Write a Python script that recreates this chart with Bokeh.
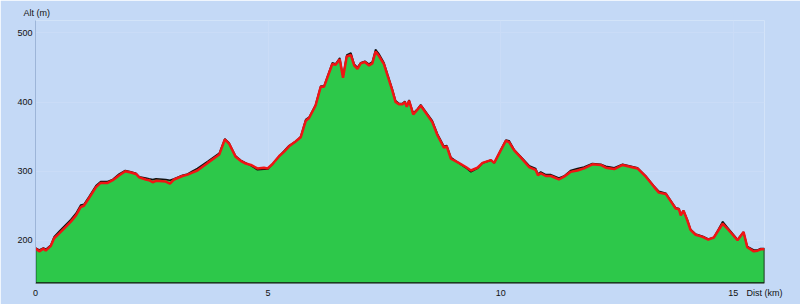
from bokeh.plotting import figure
from bokeh.models import Range1d, FixedTicker, Title
from bokeh.embed import file_html
from bokeh.resources import INLINE

# distance (km) and altitude (m)
dist_km = [0.00, 0.08, 0.17, 0.22, 0.33, 0.40, 0.51, 0.76, 0.87, 0.97, 1.04, 1.15, 1.30, 1.40, 1.55,
           1.66, 1.80, 1.93, 2.05, 2.16, 2.23, 2.37, 2.44, 2.52, 2.59, 2.80, 2.89, 2.98, 3.16, 3.27,
           3.37, 3.48, 3.70, 3.95, 4.07, 4.16, 4.30, 4.41, 4.52, 4.63, 4.77, 4.91, 4.99, 5.09, 5.24,
           5.34, 5.45, 5.59, 5.70, 5.81, 5.88, 6.02, 6.13, 6.20, 6.38, 6.45, 6.54, 6.61, 6.69, 6.78,
           6.85, 6.92, 6.99, 7.08, 7.17, 7.24, 7.31, 7.38, 7.49, 7.57, 7.67, 7.74, 7.81, 7.89, 7.94,
           7.98, 8.03, 8.12, 8.21, 8.28, 8.53, 8.64, 8.78, 8.84, 8.93, 9.07, 9.25, 9.36, 9.50, 9.61,
           9.79, 9.86, 10.00, 10.11, 10.18, 10.29, 10.43, 10.61, 10.75, 10.80, 10.86, 10.97, 11.08, 11.25, 11.36,
           11.50, 11.65, 11.79, 11.97, 12.15, 12.26, 12.44, 12.62, 12.94, 13.12, 13.30, 13.40, 13.55, 13.65, 13.76,
           13.83, 13.87, 13.93, 14.01, 14.08, 14.19, 14.34, 14.46, 14.58, 14.77, 14.87, 15.09, 15.22, 15.30, 15.44,
           15.52, 15.59, 15.67]

# GPS altitude (red line)
alt_gps = [188, 184, 188, 185, 192, 203, 210, 227, 236, 248, 250, 261, 277, 283, 283,
           287, 294, 300, 298, 296, 291, 288, 287, 284, 286, 285, 282, 288, 293, 295,
           298, 301, 312, 324, 346, 340, 321, 315, 311, 309, 304, 305, 304, 310, 322,
           328, 336, 343, 349, 373, 377, 395, 422, 422, 455, 454, 462, 435, 466, 468,
           453, 448, 456, 458, 453, 456, 473, 467, 455, 438, 417, 400, 397, 397, 400,
           393, 402, 382, 389, 395, 371, 352, 334, 336, 318, 313, 306, 301, 305, 312,
           316, 312, 330, 344, 342, 330, 320, 306, 302, 294, 297, 293, 293, 288, 292,
           299, 301, 304, 310, 309, 305, 303, 309, 304, 292, 277, 269, 267, 257, 246,
           245, 236, 243, 229, 215, 208, 205, 201, 204, 224, 217, 200, 212, 190, 184,
           185, 187, 187]

# terrain altitude (green area with black outline)
alt_dem = [189, 186, 189, 187, 193, 205, 213, 230, 239, 251, 252, 263, 279, 285, 285,
           288, 296, 301, 299, 297, 292, 290, 289, 288, 289, 288, 287, 289, 294, 296,
           300, 304, 314, 326, 347, 341, 322, 316, 312, 308, 302, 303, 303, 310, 322,
           329, 337, 343, 350, 375, 378, 396, 423, 423, 457, 455, 464, 437, 468, 471,
           455, 450, 457, 459, 455, 458, 476, 470, 457, 440, 419, 402, 398, 398, 401,
           394, 403, 384, 390, 396, 373, 354, 336, 337, 320, 313, 305, 299, 304, 312,
           316, 312, 331, 345, 344, 331, 321, 308, 304, 296, 299, 295, 295, 290, 293,
           301, 304, 306, 311, 310, 307, 305, 310, 305, 293, 278, 271, 268, 258, 247,
           246, 238, 243, 230, 216, 209, 206, 202, 204, 227, 219, 201, 212, 191, 186,
           186, 188, 188]

x_ticks = [0, 5, 10, 15]
y_ticks = [200, 300, 400, 500]
y_axis_title = "Alt (m)"
x_axis_title = "Dist (km)"

BG = "#c4d9f6"
y_min = 137.5
x_max = dist_km[-1]

p = figure(width=800, height=304, output_backend="svg", toolbar_location=None,
           x_range=Range1d(0, x_max), y_range=Range1d(y_min, 518),
           min_border_left=35, min_border_right=36, min_border_top=20, min_border_bottom=21)
p.background_fill_color = BG
p.border_fill_color = BG
p.outline_line_color = None

# y-axis title above the axis
p.add_layout(Title(text=y_axis_title, align="left", offset=-12, standoff=5,
                   text_font="Liberation Sans", text_font_size="9px",
                   text_font_style="normal", text_color="#111111"), "above")

# terrain polygon with black outline
px = [dist_km[0]] + dist_km + [dist_km[-1]]
py = [y_min + 0.5] + alt_dem + [y_min + 0.5]
p.patch(px, py, fill_color="#2dc84a", line_color="#111111", line_width=1.6)
p.line(dist_km, alt_gps, line_color="#f01414", line_width=2.5)

for ax in (p.xaxis, p.yaxis):
    ax.major_tick_line_color = None
    ax.minor_tick_line_color = None
    ax.major_label_text_font = "Liberation Sans"
    ax.major_label_text_font_size = "9px"
    ax.major_label_text_color = "#111111"
    ax.major_tick_out = 0
    ax.major_tick_in = 0

# x-axis title shown as a label at the right end of the distance axis
x_title_pos = x_max - 0.001
p.xaxis.ticker = FixedTicker(ticks=x_ticks + [x_title_pos])
p.xaxis.major_label_overrides = {x_title_pos: x_axis_title}
p.yaxis.ticker = FixedTicker(ticks=y_ticks)
p.xaxis.axis_line_color = None
p.yaxis.axis_line_color = "#9db5d8"
p.xaxis.major_label_standoff = 4
p.yaxis.major_label_standoff = 3

p.xgrid.ticker = FixedTicker(ticks=x_ticks)
p.ygrid.ticker = FixedTicker(ticks=y_ticks)
p.grid.grid_line_color = "#cadcf7"
p.grid.grid_line_width = 1

open("out.html", "w").write(file_html(p, INLINE))
